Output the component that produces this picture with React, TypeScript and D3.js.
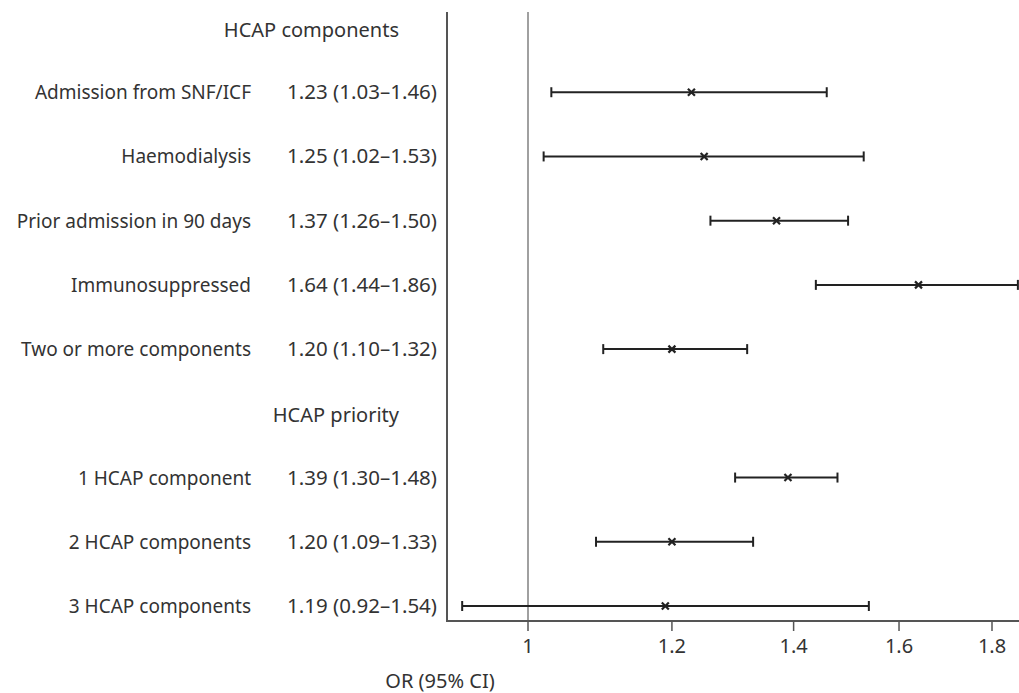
import * as d3 from "d3";

const rowLabels = [
  "HCAP components",
  "Admission from SNF/ICF",
  "Haemodialysis",
  "Prior admission in 90 days",
  "Immunosuppressed",
  "Two or more components",
  "HCAP priority",
  "1 HCAP component",
  "2 HCAP components",
  "3 HCAP components",
];
const headerRows = ["HCAP components", "HCAP priority"];

const estimates = [1.23, 1.25, 1.37, 1.64, 1.2, 1.39, 1.2, 1.19];
const lowerCI = [1.03, 1.02, 1.26, 1.44, 1.1, 1.3, 1.09, 0.92];
const upperCI = [1.46, 1.53, 1.5, 1.86, 1.32, 1.48, 1.33, 1.54];
const ciLabels = [
  "1.23 (1.03–1.46)",
  "1.25 (1.02–1.53)",
  "1.37 (1.26–1.50)",
  "1.64 (1.44–1.86)",
  "1.20 (1.10–1.32)",
  "1.39 (1.30–1.48)",
  "1.20 (1.09–1.33)",
  "1.19 (0.92–1.54)",
];
const xTicks = [1, 1.2, 1.4, 1.6, 1.8];
const xTickLabels = ["1", "1.2", "1.4", "1.6", "1.8"];

const WIDTH = 1019;
const HEIGHT = 693;
const AXIS_LEFT = 447;
const AXIS_BOTTOM = 621;
const TEXT = "#333";
const FONT = "'Noto Sans', 'Open Sans', sans-serif";
const FS = 20;

export default function App() {
  // log scale: 1 sits at x=528, 1.8 at x=992
  const k = (992 - 528) / Math.log(1.8);
  const xMin = Math.exp((AXIS_LEFT - 528) / k);
  const xMax = Math.exp((WIDTH - 528) / k);
  const x = d3.scaleLog().domain([xMin, xMax]).range([AXIS_LEFT, WIDTH]);

  const y = d3.scalePoint().domain(rowLabels).range([28, 606]);

  const dataRows = rowLabels.filter((r) => !headerRows.includes(r));

  return (
    <svg
      width={WIDTH}
      height={HEIGHT}
      style={{ position: "absolute", left: 0, top: 0, background: "#fff" }}
      fontFamily={FONT}
    >
      <defs>
        <clipPath id="plot">
          <rect x={AXIS_LEFT} y={0} width={WIDTH - AXIS_LEFT} height={AXIS_BOTTOM} />
        </clipPath>
      </defs>

      {/* reference line at OR = 1 */}
      <line x1={x(1)} x2={x(1)} y1={12} y2={AXIS_BOTTOM} stroke="#a0a0a0" strokeWidth={2} />

      {/* axes */}
      <line x1={AXIS_LEFT} x2={AXIS_LEFT} y1={12} y2={AXIS_BOTTOM} stroke="#555" strokeWidth={2} />
      <line x1={AXIS_LEFT - 1} x2={WIDTH} y1={AXIS_BOTTOM} y2={AXIS_BOTTOM} stroke="#555" strokeWidth={2} />
      {xTicks.map((t, i) => (
        <g key={t}>
          <line x1={x(t)} x2={x(t)} y1={AXIS_BOTTOM} y2={AXIS_BOTTOM + 10} stroke="#555" strokeWidth={1.5} />
          <text x={x(t)} y={AXIS_BOTTOM + 32} textAnchor="middle" fontSize={FS} fill={TEXT}>
            {xTickLabels[i]}
          </text>
        </g>
      ))}
      <text x={440} y={688} textAnchor="middle" fontSize={FS} fill={TEXT}>
        OR (95% CI)
      </text>

      {/* headers */}
      {headerRows.map((h) => (
        <text key={h} x={399} y={(y(h) ?? 0) + 9} textAnchor="end" fontSize={FS} fill={TEXT}>
          {h}
        </text>
      ))}

      {/* rows */}
      {dataRows.map((r, i) => {
        const cy = y(r) ?? 0;
        return (
          <g key={r}>
            <text x={251} y={cy + 7} textAnchor="end" fontSize={19} fill={TEXT}>
              {r}
            </text>
            <text x={437} y={cy + 7} textAnchor="end" fontSize={20.5} fill={TEXT}>
              {ciLabels[i]}
            </text>
            <g clipPath="url(#plot)" stroke="#222" strokeWidth={2}>
              <line x1={x(lowerCI[i])} x2={x(upperCI[i])} y1={cy} y2={cy} />
              <line x1={x(lowerCI[i])} x2={x(lowerCI[i])} y1={cy - 5} y2={cy + 5} />
              <line x1={x(upperCI[i])} x2={x(upperCI[i])} y1={cy - 5} y2={cy + 5} />
              <path
                d={`M${x(estimates[i]) - 3.5},${cy - 3.5}L${x(estimates[i]) + 3.5},${cy + 3.5}M${x(estimates[i]) - 3.5},${cy + 3.5}L${x(estimates[i]) + 3.5},${cy - 3.5}`}
                strokeWidth={2.2}
              />
            </g>
          </g>
        );
      })}
    </svg>
  );
}
